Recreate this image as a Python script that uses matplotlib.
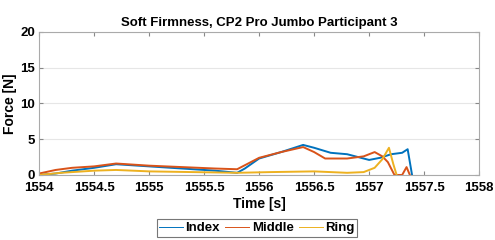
import numpy as np
import matplotlib
matplotlib.use("Agg")
import matplotlib.pyplot as plt

plt.rcParams['font.family'] = ['Liberation Sans', 'DejaVu Sans']
plt.rcParams['font.weight'] = 'bold'

# Index finger force
t_index = [1554.0, 1554.15, 1554.3, 1554.5, 1554.7, 1555.0, 1555.3, 1555.6, 1555.8, 1555.87,
           1556.0, 1556.2, 1556.4, 1556.5, 1556.65, 1556.8, 1557.0, 1557.1, 1557.2, 1557.3,
           1557.35, 1557.39]
f_index = [0.0, 0.2, 0.6, 1.0, 1.5, 1.2, 0.9, 0.6, 0.3, 0.9,
           2.3, 3.2, 4.2, 3.8, 3.1, 2.9, 2.1, 2.4, 2.9, 3.1,
           3.6, 0.0]

# Middle finger force
t_middle = [1554.0, 1554.15, 1554.3, 1554.5, 1554.7, 1555.0, 1555.3, 1555.6, 1555.8, 1555.9,
            1556.0, 1556.2, 1556.4, 1556.5, 1556.6, 1556.8, 1556.95, 1557.05, 1557.12, 1557.17,
            1557.23, 1557.3, 1557.34, 1557.37]
f_middle = [0.2, 0.7, 1.0, 1.2, 1.6, 1.3, 1.1, 0.9, 0.8, 1.6,
            2.4, 3.2, 3.9, 3.2, 2.3, 2.3, 2.6, 3.2, 2.6, 1.8,
            0.0, 0.0, 1.1, 0.0]

# Ring finger force
t_ring = [1554.0, 1554.2, 1554.5, 1554.7, 1555.0, 1555.4, 1555.8, 1556.1, 1556.5, 1556.8,
          1556.95, 1557.05, 1557.12, 1557.18, 1557.22, 1557.25]
f_ring = [0.0, 0.3, 0.6, 0.7, 0.5, 0.4, 0.3, 0.4, 0.5, 0.3,
          0.4, 1.0, 2.2, 3.8, 1.5, 0.0]

fig = plt.figure(figsize=(4.95, 2.4), dpi=100)
ax = fig.add_axes([0.079, 0.271, 0.889, 0.596])

ax.plot(t_index, f_index, color='#0072BD', lw=1.4, label='Index')
ax.plot(t_middle, f_middle, color='#D95319', lw=1.4, label='Middle')
ax.plot(t_ring, f_ring, color='#EDB120', lw=1.4, label='Ring')

ax.set_xlim(1554, 1558)
ax.set_ylim(0, 20)
ax.set_xticks(np.arange(1554, 1558.01, 0.5))
ax.set_xticklabels(['1554', '1554.5', '1555', '1555.5', '1556', '1556.5', '1557', '1557.5', '1558'])
ax.set_yticks([0, 5, 10, 15, 20])
ax.yaxis.grid(True, color='#e6e6e6', lw=0.8)
ax.set_axisbelow(True)
ax.tick_params(labelsize=9.5, length=3, direction='in', top=True, right=True, color='#888888')
ax.tick_params(axis='x', pad=5)
ax.tick_params(axis='y', pad=3)
for s in ax.spines.values():
    s.set_color('#aaaaaa')
    s.set_linewidth(0.8)

ax.set_title('Soft Firmness, CP2 Pro Jumbo Participant 3', fontsize=9.5, fontweight='bold', pad=4)
ax.set_xlabel('Time [s]', fontsize=10, fontweight='bold', labelpad=2)
ax.set_ylabel('Force [N]', fontsize=10, fontweight='bold', labelpad=2)

leg = ax.legend(loc='upper center', bbox_to_anchor=(0.495, -0.31), ncol=3, fontsize=9.5,
                frameon=True, fancybox=False, edgecolor='#555555', handlelength=1.8,
                handletextpad=0.2, columnspacing=0.4, borderpad=0.2, borderaxespad=0)
leg.get_frame().set_linewidth(0.8)
for h in leg.legend_handles:
    h.set_linewidth(0.7)

fig.savefig('out.png', dpi=100)
